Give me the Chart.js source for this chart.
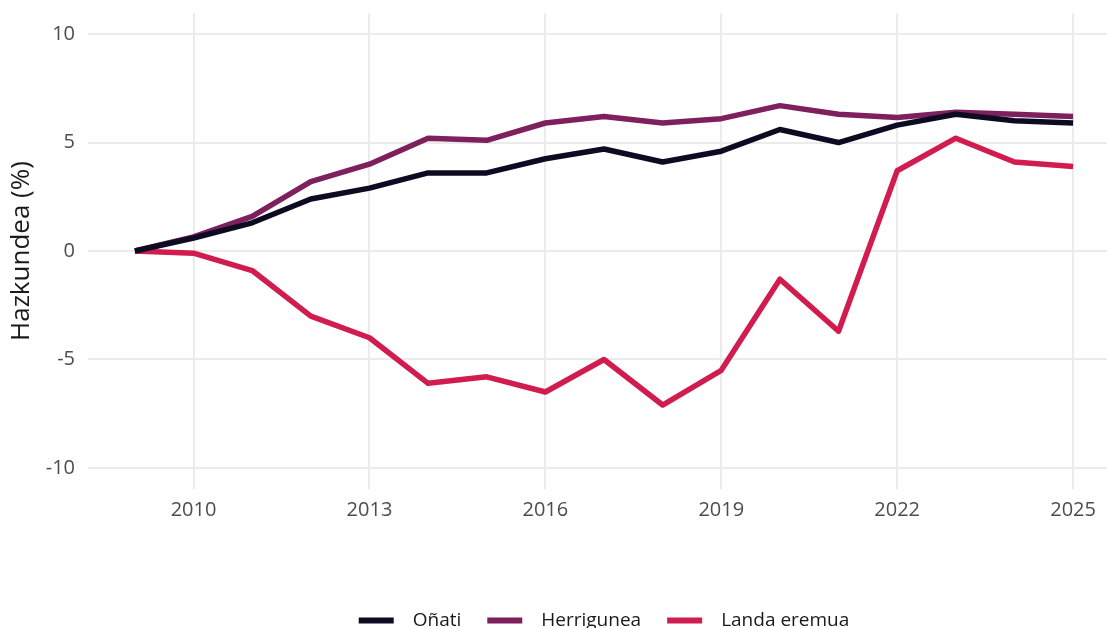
<!DOCTYPE html>
<html>
<head>
<meta charset="utf-8">
<script src="https://cdn.jsdelivr.net/npm/chart.js@4.4.1/dist/chart.umd.min.js"></script>
<style>
    html, body { margin: 0; padding: 0; background: #fff; overflow: hidden; }
    #wrap { position: relative; width: 1120px; height: 640px; }
</style>
</head>
<body>
<div id="wrap"><canvas id="myChart"></canvas></div>
<script>
// data
const years = [2009, 2010, 2011, 2012, 2013, 2014, 2015, 2016, 2017, 2018, 2019, 2020, 2021, 2022, 2023, 2024, 2025];
const onati = [0, 0.6, 1.3, 2.4, 2.9, 3.6, 3.6, 4.25, 4.7, 4.1, 4.6, 5.6, 5.0, 5.8, 6.3, 6.0, 5.9];
const herrigunea = [0, 0.65, 1.6, 3.2, 4.0, 5.2, 5.1, 5.9, 6.2, 5.9, 6.1, 6.7, 6.3, 6.15, 6.4, 6.3, 6.2];
const landaEremua = [0, -0.1, -0.9, -3.0, -4.0, -6.1, -5.8, -6.5, -5.0, -7.1, -5.5, -1.3, -3.7, 3.7, 5.2, 4.1, 3.9];
const seriesNames = ['Oñati', 'Herrigunea', 'Landa eremua'];
const xTicks = [2010, 2013, 2016, 2019, 2022, 2025];
const yTicks = [-10, -5, 0, 5, 10];

const colors = ['#0d0b22', '#7e1f5e', '#d11c4f'];
const fontFamily = "'Open Sans', sans-serif";

const toPoints = (values) => values.map((v, i) => ({ x: years[i], y: v }));

const main = () => {
    const chart = document.getElementById("myChart");

    const data = {
        datasets: [onati, herrigunea, landaEremua].map((values, i) => ({
            label: seriesNames[i],
            data: toPoints(values),
            borderColor: colors[i],
            backgroundColor: colors[i],
            borderWidth: 5.5,
            borderJoinStyle: 'round',
            pointRadius: 0,
            tension: 0,
        }))
    };

    const config = {
        type: "line",
        data: data,
        options: {
            animation: false,
            responsive: true,
            maintainAspectRatio: false,
            devicePixelRatio: 1,
            layout: { padding: { top: 13, left: 0, right: 0, bottom: 0 } },
            scales: {
                x: {
                    type: 'linear',
                    min: 2008.2,
                    max: 2025.8,
                    afterBuildTicks: (scale) => { scale.ticks = xTicks.map(v => ({ value: v })); },
                    // fixed axis band, and no extra room for the end labels
                    afterFit: (scale) => {
                        scale.height = 96;
                        scale.paddingLeft = 0;
                        scale.paddingRight = 0;
                    },
                    grid: { color: '#ebebeb', lineWidth: 2, drawTicks: false },
                    border: { display: false },
                    ticks: {
                        color: '#4d4d4d',
                        padding: 9,
                        font: { family: fontFamily, size: 20 },
                        callback: (v) => String(v),
                    },
                },
                y: {
                    min: -10.97,
                    max: 10.97,
                    afterBuildTicks: (scale) => { scale.ticks = yTicks.map(v => ({ value: v })); },
                    afterFit: (scale) => {
                        scale.width = 88;
                        scale.paddingTop = 0;
                        scale.paddingBottom = 0;
                    },
                    grid: { color: '#ebebeb', lineWidth: 2, drawTicks: false },
                    border: { display: false },
                    ticks: {
                        color: '#4d4d4d',
                        padding: 13,
                        font: { family: fontFamily, size: 20 },
                        callback: (v) => String(v),
                    },
                    title: {
                        display: true,
                        text: 'Hazkundea (%)',
                        color: '#1a1a1a',
                        font: { family: fontFamily, size: 26 },
                        padding: { top: 6, bottom: 0 },
                    },
                },
            },
            plugins: {
                legend: {
                    position: 'bottom',
                    fullSize: false, // centre the legend under the plot panel
                    labels: {
                        boxWidth: 35,
                        boxHeight: 6,
                        padding: 26,
                        color: '#1a1a1a',
                        font: { family: fontFamily, size: 19 },
                        // plain colour blocks, like the line keys in the reference
                        generateLabels: (c) => c.data.datasets.map((ds, i) => ({
                            text: '\u2002' + ds.label,
                            fillStyle: ds.borderColor,
                            strokeStyle: ds.borderColor,
                            lineWidth: 0,
                            hidden: false,
                            datasetIndex: i,
                            fontColor: '#1a1a1a',
                        })),
                    },
                },
                tooltip: { enabled: false },
            },
        }
    };

    return new Chart(chart, config);
};

main();
</script>
</body>
</html>
